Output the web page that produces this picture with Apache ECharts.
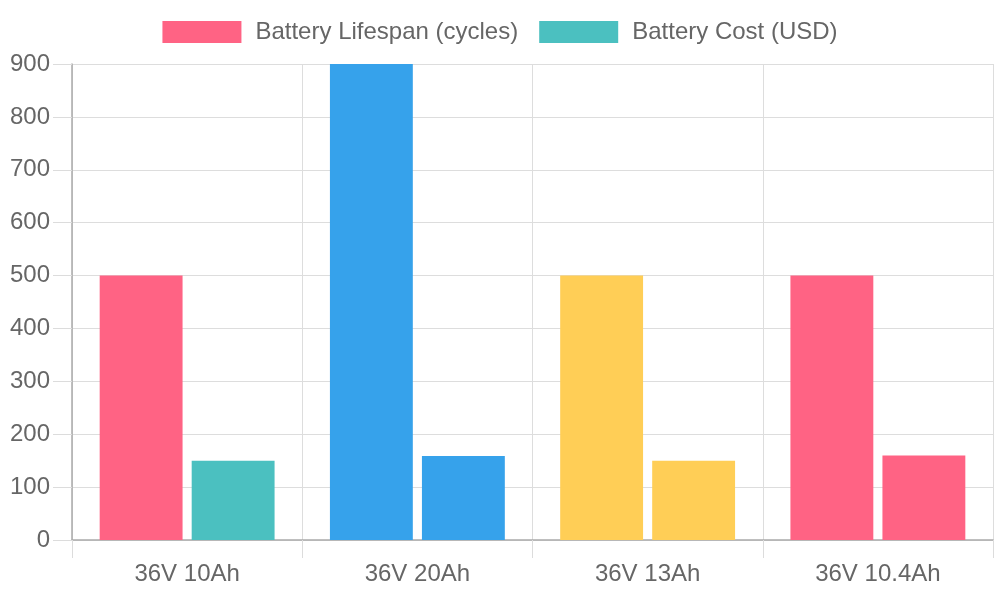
<!DOCTYPE html>
<html>
<head>
<meta charset="utf-8">
<script src="https://cdn.jsdelivr.net/npm/echarts@6/dist/echarts.min.js"></script>
<style>
html,body{margin:0;padding:0;background:#fff;}
#chart{width:1000px;height:600px;}
</style>
</head>
<body>
<div id="chart"></div>
<script>
var categories = ['36V 10Ah', '36V 20Ah', '36V 13Ah', '36V 10.4Ah'];
var lifespan = [500, 900, 500, 500];
var cost = [150, 159, 150, 160];
var lifespanColors = ['#FF6384', '#36A2EB', '#FFCE56', '#FF6384'];
var costColors = ['#4BC0C0', '#36A2EB', '#FFCE56', '#FF6384'];
var yTicks = [0, 900, 100];

function withColors(values, colors){
	return values.map(function(v, i){
		return {value: v, itemStyle: {color: colors[i]}};
	});
}

var myChart = echarts.init(document.getElementById('chart'));
var fontFamily = '"Liberation Sans", Arial, sans-serif';
var option = {
	animation: false,
	textStyle: {fontFamily: fontFamily},
	legend: {
		top: 15,
		left: 'center',
		itemWidth: 79,
		itemHeight: 22,
		itemGap: 21,
		icon: 'rect',
		textStyle: {fontSize: 24, color: '#666', fontFamily: fontFamily, padding: [0, 0, 0, 9]},
		data: ['Battery Lifespan (cycles)', 'Battery Cost (USD)']
	},
	grid: {left: 72, right: 7, top: 64, bottom: 60},
	xAxis: {
		type: 'category',
		data: categories,
		axisLine: {show: true, lineStyle: {color: '#aaa', width: 1.5}},
		axisTick: {show: true, length: 18, lineStyle: {color: '#dcdcdc'}},
		splitLine: {show: true, lineStyle: {color: '#ddd'}},
		axisLabel: {fontSize: 24, color: '#666', margin: 22, fontFamily: fontFamily}
	},
	yAxis: {
		type: 'value',
		min: yTicks[0],
		max: yTicks[1],
		interval: yTicks[2],
		axisLine: {show: true, lineStyle: {color: '#aaa', width: 1.5}},
		axisTick: {show: true, length: 19, lineStyle: {color: '#dcdcdc'}},
		splitLine: {show: true, lineStyle: {color: '#ddd'}},
		axisLabel: {fontSize: 24, color: '#666', margin: 22, fontFamily: fontFamily}
	},
	series: [
		{
			name: 'Battery Lifespan (cycles)',
			type: 'bar',
			barWidth: '36%',
			barGap: '11%',
			itemStyle: {color: lifespanColors[0]},
			data: withColors(lifespan, lifespanColors)
		},
		{
			name: 'Battery Cost (USD)',
			type: 'bar',
			barWidth: '36%',
			barGap: '11%',
			itemStyle: {color: costColors[0]},
			data: withColors(cost, costColors)
		}
	]
};
myChart.setOption(option);
</script>
</body>
</html>
